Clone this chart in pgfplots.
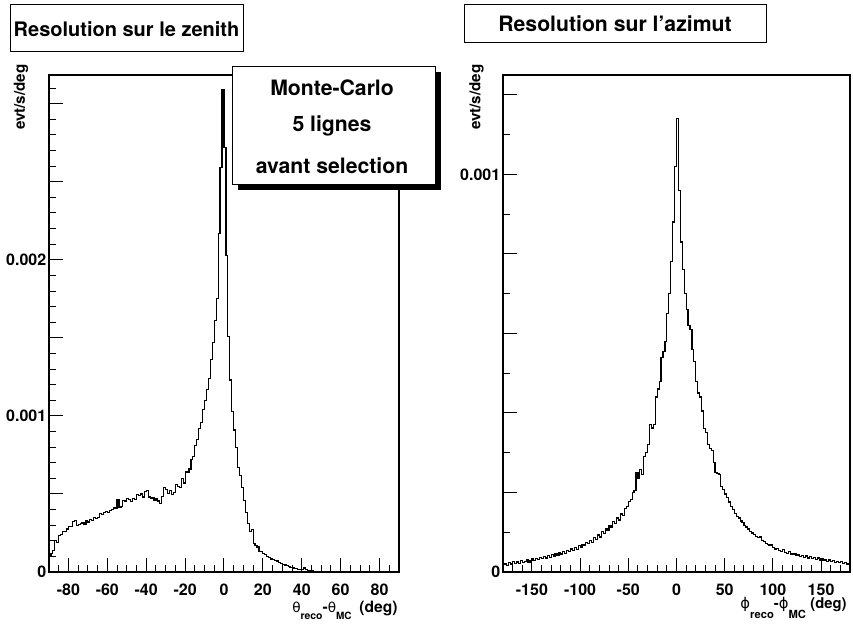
\documentclass[border=0pt]{standalone}
\usepackage{pgfplots}
\usepackage{pgfplotstable}
\pgfplotsset{compat=1.18}
\usepackage{fontspec}
\setmainfont{TeX Gyre Heros}
\newfontfamily\greek{DejaVu Sans}

\pgfplotstableread{
x y
-90 0.000100
-89 0.000120
-88 0.000140
-87 0.000200
-86 0.000190
-85 0.000235
-84 0.000240
-83 0.000260
-82 0.000260
-81 0.000275
-80 0.000290
-79 0.000290
-78 0.000325
-77 0.000330
-76 0.000300
-75 0.000305
-74 0.000310
-73 0.000315
-72 0.000305
-71 0.000330
-70 0.000320
-69 0.000335
-68 0.000330
-67 0.000350
-66 0.000345
-65 0.000350
-64 0.000375
-63 0.000370
-62 0.000380
-61 0.000385
-60 0.000380
-59 0.000395
-58 0.000400
-57 0.000410
-56 0.000405
-55 0.000465
-54 0.000415
-53 0.000420
-52 0.000460
-51 0.000455
-50 0.000470
-49 0.000465
-48 0.000450
-47 0.000470
-46 0.000465
-45 0.000495
-44 0.000490
-43 0.000500
-42 0.000480
-41 0.000515
-40 0.000520
-39 0.000480
-38 0.000470
-37 0.000475
-36 0.000460
-35 0.000470
-34 0.000455
-33 0.000440
-32 0.000485
-31 0.000540
-30 0.000530
-29 0.000505
-28 0.000520
-27 0.000495
-26 0.000510
-25 0.000560
-24 0.000550
-23 0.000540
-22 0.000600
-21 0.000570
-20 0.000640
-19 0.000640
-18 0.000660
-17 0.000720
-16 0.000740
-15 0.000810
-14 0.000850
-13 0.000920
-12 0.000960
-11 0.001040
-10 0.001100
-9 0.001170
-8 0.001240
-7 0.001360
-6 0.001470
-5 0.001610
-4 0.001750
-3 0.002170
-2 0.002590
-1 0.003090
0 0.002720
1 0.002030
2 0.001510
3 0.001230
4 0.001030
5 0.000910
6 0.000800
7 0.000670
8 0.000620
9 0.000540
10 0.000460
11 0.000380
12 0.000310
13 0.000260
14 0.000270
15 0.000180
16 0.000170
17 0.000160
18 0.000130
19 0.000130
20 0.000120
21 0.000110
22 0.000100
23 0.000095
24 0.000083
25 0.000078
26 0.000072
27 0.000070
28 0.000062
29 0.000055
30 0.000050
31 0.000045
32 0.000040
33 0.000035
34 0.000030
35 0.000028
36 0.000022
37 0.000020
38 0.000018
39 0.000015
40 0.000015
41 0.000025
42 0.000018
43 0.000010
44 0.000010
45 0.000008
46 0.000005
47 0
90 0
}\zenith

\pgfplotstableread{
x y
-180 0.000018
-178 0.000022
-176 0.000016
-174 0.000024
-172 0.000020
-170 0.000026
-168 0.000021
-166 0.000025
-164 0.000022
-162 0.000028
-160 0.000024
-158 0.000027
-156 0.000030
-154 0.000025
-152 0.000029
-150 0.000033
-148 0.000028
-146 0.000034
-144 0.000031
-142 0.000036
-140 0.000033
-138 0.000038
-136 0.000035
-134 0.000041
-132 0.000037
-130 0.000043
-128 0.000040
-126 0.000046
-124 0.000042
-122 0.000048
-120 0.000045
-118 0.000052
-116 0.000047
-114 0.000055
-112 0.000051
-110 0.000058
-108 0.000054
-106 0.000062
-104 0.000057
-102 0.000066
-100 0.000061
-98 0.000070
-96 0.000066
-94 0.000074
-92 0.000071
-90 0.000079
-88 0.000075
-86 0.000086
-84 0.000082
-82 0.000093
-80 0.000088
-78 0.000101
-76 0.000096
-74 0.000108
-72 0.000104
-70 0.000117
-68 0.000112
-66 0.000126
-64 0.000121
-62 0.000136
-60 0.000131
-58 0.000146
-56 0.000142
-54 0.000160
-52 0.000165
-50 0.000177
-48 0.000183
-46 0.000200
-44 0.000205
-42 0.000250
-40 0.000236
-38 0.000258
-36 0.000245
-34 0.000290
-32 0.000300
-30 0.000320
-28 0.000370
-26 0.000362
-24 0.000370
-22 0.000440
-20 0.000460
-18 0.000480
-16 0.000540
-14 0.000555
-12 0.000580
-10 0.000650
-8 0.000700
-6 0.000780
-4 0.000880
-2 0.001020
0 0.001140
2 0.000960
4 0.000830
6 0.000760
8 0.000700
10 0.000660
12 0.000620
14 0.000610
16 0.000560
18 0.000530
20 0.000480
22 0.000450
24 0.000440
26 0.000405
28 0.000360
30 0.000350
32 0.000320
34 0.000310
36 0.000305
38 0.000275
40 0.000250
42 0.000248
44 0.000245
46 0.000215
48 0.000208
50 0.000196
52 0.000188
54 0.000176
56 0.000165
58 0.000158
60 0.000148
62 0.000140
64 0.000136
66 0.000128
68 0.000124
70 0.000116
72 0.000113
74 0.000108
76 0.000102
78 0.000098
80 0.000094
82 0.000090
84 0.000086
86 0.000088
88 0.000080
90 0.000076
92 0.000072
94 0.000070
96 0.000066
98 0.000068
100 0.000062
102 0.000058
104 0.000060
106 0.000055
108 0.000052
110 0.000056
112 0.000050
114 0.000047
116 0.000051
118 0.000045
120 0.000043
122 0.000047
124 0.000041
126 0.000044
128 0.000039
130 0.000042
132 0.000037
134 0.000040
136 0.000035
138 0.000038
140 0.000034
142 0.000036
144 0.000032
146 0.000035
148 0.000030
150 0.000033
152 0.000029
154 0.000031
156 0.000027
158 0.000030
160 0.000026
162 0.000029
164 0.000024
166 0.000027
168 0.000023
170 0.000026
172 0.000021
174 0.000024
176 0.000020
178 0.000022
180 0.000022
}\azimut

\pgfplotsset{
  rootaxis/.style={
    scale only axis,
    anchor=south west,
    axis line style={line width=0.9pt},
    tick align=inside,
    tick pos=left,
    major tick length=7pt,
    minor tick length=3.6pt,
    every tick/.style={black, line width=0.5pt},
    scaled ticks=false,
    /pgf/number format/assume math mode=true,
    xticklabel style={anchor=base, inner sep=0pt, yshift=-11.9pt,
      font=\bfseries\fontsize{8}{9}\selectfont},
    yticklabel style={anchor=east, inner sep=0pt, xshift=-1.2pt,
      font=\bfseries\fontsize{8}{9}\selectfont},
    extra tick style={major tick length=7pt},
  }
}

\begin{document}
\begin{tikzpicture}[x=1pt,y=1pt]
\path[use as bounding box] (0,0) rectangle (426.5,312);

% ---------- left: zenith ----------
\begin{axis}[rootaxis,
  at={(24.5pt,26pt)}, width=175pt, height=248.5pt,
  xmin=-90, xmax=90, ymin=0, ymax=0.003184,
  xtick={-80,-60,-40,-20,0,20,40,60,80},
  xticklabels={-80,-60,-40,-20,0,20,40,60,80},
  minor xtick={-85,-80,...,85},
  ytick={0,0.001,0.002,0.003},
  yticklabels={0,0.001,0.002,{}},
  extra y ticks={0.0005,0.0015,0.0025},
  extra y tick labels={},
  minor ytick={0.0001,0.0002,0.0003,0.0004,0.0006,0.0007,0.0008,0.0009,0.0011,0.0012,0.0013,0.0014,0.0016,0.0017,0.0018,0.0019,0.0021,0.0022,0.0023,0.0024,0.0026,0.0027,0.0028,0.0029,0.0031},
]
\addplot[const plot mark left, black, line width=0.6pt, mark=none] table[x=x,y=y]{\zenith};
\end{axis}

% ---------- right: azimut ----------
\begin{axis}[rootaxis,
  at={(251.5pt,26pt)}, width=173.5pt, height=248.5pt,
  xmin=-180, xmax=180, ymin=0, ymax=0.00125,
  xtick={-150,-100,-50,0,50,100,150},
  xticklabels={-150,-100,-50,0,50,100,150},
  minor xtick={-170,-160,...,170},
  ytick={0,0.0002,0.0004,0.0006,0.0008,0.001,0.0012},
  yticklabels={0,{},{},{},{},0.001,{}},
  minor ytick={0.0001,0.0003,0.0005,0.0007,0.0009,0.0011},
]
\addplot[const plot mark left, black, line width=0.6pt, mark=none] table[x=x,y=y]{\azimut};
\end{axis}

% ---------- titles ----------
\draw[line width=0.5pt] (5,286) rectangle (121.5,309.5);
\node[anchor=base, inner sep=0, font=\bfseries\fontsize{10}{12}\selectfont] at (63.25,293.7) {Resolution sur le zenith};
\draw[line width=0.5pt] (232,290.5) rectangle (383,309.5);
\node[anchor=base, inner sep=0, font=\bfseries\fontsize{10.6}{12}\selectfont] at (307.5,296.2) {Resolution sur l'azimut};

% ---------- legend box ----------
\fill[black] (118.75,216.75) rectangle (220.25,275.75);
\draw[fill=white, line width=0.5pt] (116,219.5) rectangle (217.5,278.5);
\node[anchor=base, inner sep=0, font=\bfseries\fontsize{10.6}{12}\selectfont] at (166,264) {Monte-Carlo};
\node[anchor=base, inner sep=0, font=\bfseries\fontsize{10.6}{12}\selectfont] at (166,246.2) {5 lignes};
\node[anchor=base, inner sep=0, font=\bfseries\fontsize{10.6}{12}\selectfont] at (166,225) {avant selection};

% ---------- axis titles ----------
\node[rotate=90, anchor=base east, inner sep=0, font=\bfseries\fontsize{7.6}{8}\selectfont] at (12.4,280) {evt/s/deg};
\node[rotate=90, anchor=base east, inner sep=0, font=\bfseries\fontsize{7.6}{8}\selectfont] at (240.2,280) {evt/s/deg};

\node[anchor=base east, inner sep=0, font=\bfseries\fontsize{7.8}{9}\selectfont] at (199,5.8)
  {{\greek\mdseries\fontsize{6.8}{8}\selectfont θ}\raisebox{-3.4pt}{\fontsize{5.2}{6}\selectfont reco}-{\greek\mdseries\fontsize{6.8}{8}\selectfont θ}\raisebox{-3.4pt}{\fontsize{5.0}{6}\selectfont MC}\hspace{0.5em}(deg)};
\node[anchor=base east, inner sep=0, font=\bfseries\fontsize{7.4}{8}\selectfont] at (423.5,7.5)
  {{\greek\mdseries ϕ}\raisebox{-5pt}{\fontsize{5.6}{6}\selectfont reco}-{\greek\mdseries ϕ}\raisebox{-5pt}{\fontsize{5.6}{6}\selectfont MC}\hspace{0.3em}(deg)};
\end{tikzpicture}
\end{document}
